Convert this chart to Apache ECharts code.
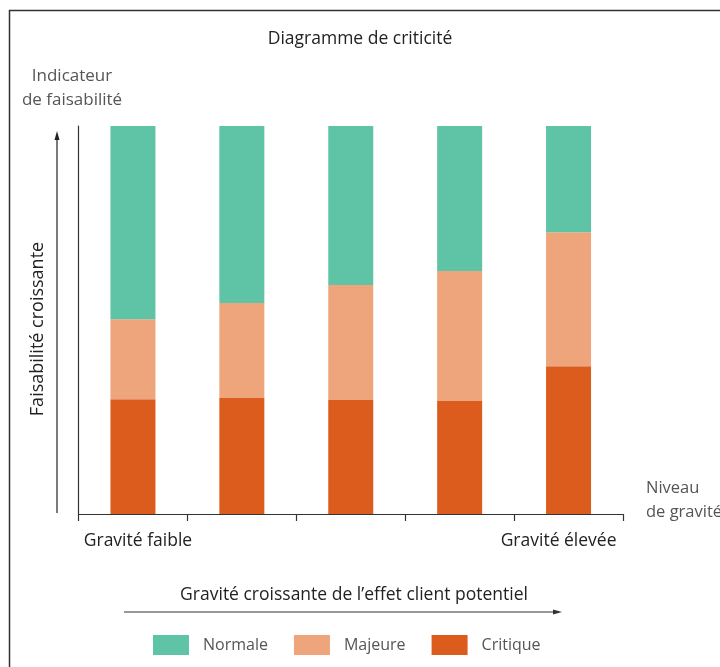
<!DOCTYPE html>
<html>
<head>
<meta charset="utf-8">
<script src="https://cdn.jsdelivr.net/npm/echarts@6/dist/echarts.min.js"></script>
<style>html,body{margin:0;padding:0;background:#fff;}#c{width:720px;height:667px;}</style>
</head>
<body>
<div id="c"></div>
<script>
const categories = ['Gravité faible', '', '', '', 'Gravité élevée'];
const seriesNames = ['Normale', 'Majeure', 'Critique'];
const critique = [29.6, 29.9, 29.4, 29.1, 38.1];
const majeure = [20.6, 24.5, 29.6, 33.5, 34.5];
const normale = [49.8, 45.6, 41.0, 37.4, 27.4];
const colors = { Normale: '#5FC4A6', Majeure: '#EFA57B', Critique: '#DC5C1E' };

const FONT = '"Open Sans", "Noto Sans", sans-serif';
const chart = echarts.init(document.getElementById('c'));

function bar(name, data) {
  return {
    name: name, type: 'bar', stack: 'total', data: data,
    barWidth: 45, itemStyle: { color: colors[name] },
    emphasis: { disabled: true }, animation: false
  };
}

const labelPad = [[0, 0, 0, 10], [0, 0, 0, 0], [0, 0, 0, 0], [0, 0, 0, 0], [0, 20, 0, 0]];

chart.setOption({
  animation: false,
  textStyle: { fontFamily: FONT },
  title: {
    text: 'Diagramme de criticité', left: 'center', top: 25,
    textStyle: { fontFamily: FONT, fontSize: 17.5, fontWeight: 'normal', color: '#222' }
  },
  legend: {
    data: seriesNames, bottom: 7, left: 148,
    itemWidth: 36, itemHeight: 20, itemGap: 26, icon: 'rect',
    textStyle: { fontFamily: FONT, fontSize: 16, color: '#555', padding: [0, 0, 0, 9] },
    selectedMode: false
  },
  grid: { left: 78.5, right: 97, top: 126, bottom: 153, containLabel: false, outerBoundsMode: 'none' },
  xAxis: {
    type: 'category',
    data: categories.map(function (c, i) { return { value: c, textStyle: { padding: labelPad[i] } }; }),
    axisLine: { show: true, lineStyle: { color: '#333', width: 1.2 } },
    axisTick: { show: true, length: 7, lineStyle: { color: '#333', width: 1.2 } },
    axisLabel: { show: true, margin: 18, interval: 0, fontFamily: FONT, fontSize: 17.5, color: '#222' }
  },
  yAxis: {
    type: 'value', min: 0, max: 100,
    axisLine: { show: true, lineStyle: { color: '#333', width: 1.2 } },
    axisTick: { show: false }, axisLabel: { show: false }, splitLine: { show: false },
    name: 'Indicateur\nde faisabilité', nameLocation: 'end', nameGap: 14,
    nameTextStyle: { fontFamily: FONT, fontSize: 17, color: '#555', lineHeight: 24, align: 'center', padding: [0, 13, 0, 0] }
  },
  series: [bar('Critique', critique), bar('Majeure', majeure), bar('Normale', normale)],
  graphic: [
    { type: 'rect', silent: true, shape: { x: 9.5, y: 10.5, width: 760, height: 720 },
      style: { fill: 'none', stroke: '#333', lineWidth: 1.5 } },
    { type: 'rect', silent: true, shape: { x: 620, y: 515.5, width: 6, height: 9 },
      style: { fill: '#fff' } },
    { type: 'text', silent: true, x: 646, y: 500,
      style: { text: 'Niveau\nde gravité', fontFamily: FONT, fontSize: 16.5, fill: '#555', lineHeight: 24,
        align: 'left', verticalAlign: 'middle' } },
    { type: 'line', silent: true, shape: { x1: 57, y1: 513, x2: 57, y2: 137 },
      style: { stroke: '#222', lineWidth: 1.2 } },
    { type: 'polygon', silent: true, shape: { points: [[57, 131], [54.5, 140], [59.5, 140]] },
      style: { fill: '#222' } },
    { type: 'text', silent: true, x: 38, y: 329, rotation: Math.PI / 2,
      style: { text: 'Faisabilité croissante', fontFamily: FONT, fontSize: 18, fill: '#222',
        align: 'center', verticalAlign: 'middle' } },
    { type: 'text', silent: true, x: 354, y: 595,
      style: { text: 'Gravité croissante de l\u2019effet client potentiel', fontFamily: FONT, fontSize: 17.5, fill: '#222',
        align: 'center', verticalAlign: 'middle' } },
    { type: 'line', silent: true, shape: { x1: 124, y1: 612, x2: 556, y2: 612 },
      style: { stroke: '#333', lineWidth: 1.2 } },
    { type: 'polygon', silent: true, shape: { points: [[562, 612], [553, 609.5], [553, 614.5]] },
      style: { fill: '#333' } }
  ]
});
</script>
</body>
</html>
